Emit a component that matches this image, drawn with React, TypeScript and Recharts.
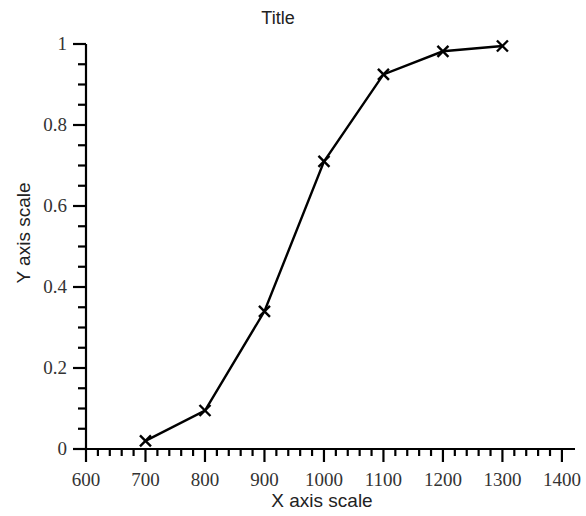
import { Line, LineChart, XAxis, YAxis } from "recharts";

const xValues = [700, 800, 900, 1000, 1100, 1200, 1300];
const yValues = [0.02, 0.095, 0.34, 0.71, 0.925, 0.982, 0.995];

const xMajorTicks = [600, 700, 800, 900, 1000, 1100, 1200, 1300, 1400];
const xMinorStep = 20;
const yMajorTicks = [0, 0.2, 0.4, 0.6, 0.8, 1];
const yMinorStep = 0.05;

const xTicks: number[] = [];
for (let v = 600; v <= 1400; v += xMinorStep) xTicks.push(v);
const yTicks: number[] = [];
for (let i = 0; i <= 20; i++) yTicks.push(Math.round(i * yMinorStep * 100) / 100);

const data = xValues.map((x, i) => ({ x, y: yValues[i] }));

const isMajor = (list: number[], v: number) => list.some((m) => Math.abs(m - v) < 1e-6);

const tickFont = "'Liberation Serif', 'Times New Roman', serif";
const labelFont = "'Liberation Sans', Arial, sans-serif";

function XTick({ x, y, payload }: any) {
  const major = isMajor(xMajorTicks, payload.value);
  return (
    <g>
      <line x1={x} x2={x} y1={y} y2={y + (major ? 13 : 7)} stroke="#000" strokeWidth={2.2} />
      {major && (
        <text x={x} y={y + 37} textAnchor="middle" fontFamily={tickFont} fontSize={19} fill="#333">
          {payload.value}
        </text>
      )}
    </g>
  );
}

function YTick({ x, y, payload }: any) {
  const major = isMajor(yMajorTicks, payload.value);
  return (
    <g>
      <line x1={x - (major ? 13 : 8)} x2={x} y1={y} y2={y} stroke="#000" strokeWidth={2.2} />
      {major && (
        <text x={x - 19} y={y + 6} textAnchor="end" fontFamily={tickFont} fontSize={19} fill="#333">
          {payload.value}
        </text>
      )}
    </g>
  );
}

function Cross({ cx, cy }: any) {
  const r = 5.5;
  return (
    <g>
      <line x1={cx - r} y1={cy - r} x2={cx + r} y2={cy + r} stroke="#000" strokeWidth={2.4} />
      <line x1={cx - r} y1={cy + r} x2={cx + r} y2={cy - r} stroke="#000" strokeWidth={2.4} />
    </g>
  );
}

export default function App() {
  return (
    <div style={{ position: "absolute", left: 0, top: 0, width: 586, height: 516, background: "#fff" }}>
      <LineChart width={586} height={516} data={data} margin={{ top: 44, right: 11, bottom: 0, left: 0 }}>
        <XAxis
          dataKey="x"
          type="number"
          domain={[600, 1422]}
          ticks={xTicks}
          interval={0}
          height={67}
          tickSize={0}
          tickMargin={0}
          tickLine={false}
          axisLine={{ stroke: "#000", strokeWidth: 2.2 }}
          tick={<XTick />}
        />
        <YAxis
          type="number"
          domain={[0, 1]}
          ticks={yTicks}
          interval={0}
          width={86}
          tickSize={0}
          tickMargin={0}
          tickLine={false}
          axisLine={{ stroke: "#000", strokeWidth: 2.2 }}
          tick={<YTick />}
        />
        <Line
          dataKey="y"
          stroke="#000"
          strokeWidth={2.4}
          dot={<Cross />}
          activeDot={false}
          isAnimationActive={false}
        />
      </LineChart>
      <div
        style={{
          position: "absolute",
          left: 0,
          width: 556,
          top: 8,
          textAlign: "center",
          fontFamily: labelFont,
          fontSize: 18,
          color: "#222",
        }}
      >
        Title
      </div>
      <div
        style={{
          position: "absolute",
          left: 0,
          width: 644,
          top: 490,
          textAlign: "center",
          fontFamily: labelFont,
          fontSize: 19,
          color: "#222",
        }}
      >
        X axis scale
      </div>
      <div style={{ position: "absolute", left: 24, top: 233, width: 0, height: 0 }}>
        <div
          style={{
            position: "absolute",
            left: 0,
            top: 0,
            transform: "translate(-50%, -50%) rotate(-90deg)",
            whiteSpace: "nowrap",
            fontFamily: labelFont,
            fontSize: 19,
            color: "#222",
          }}
        >
          Y axis scale
        </div>
      </div>
    </div>
  );
}
